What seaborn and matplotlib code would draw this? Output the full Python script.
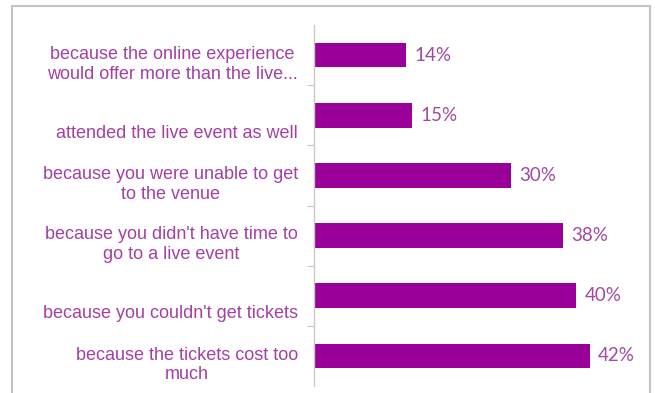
import matplotlib
matplotlib.use("Agg")
import matplotlib.pyplot as plt
import seaborn as sns
import pandas as pd
from matplotlib.patches import Rectangle

# Reasons for watching online, top to bottom
reasons = [
    "because the online experience\nwould offer more than the live...",
    "attended the live event as well",
    "because you were unable to get\nto the venue",
    "because you didn't have time to\ngo to a live event",
    "because you couldn't get tickets",
    "because the tickets cost too\nmuch",
]
shares = [14, 15, 30, 38, 40, 42]

BAR = "#990099"
LABEL = "#a43fa4"
VALUE = "#a04aa0"
AXIS = "#c8c8c8"

sns.set_theme(style="white")
plt.rcParams["font.family"] = ["Liberation Sans", "DejaVu Sans"]

df = pd.DataFrame({"reason": reasons, "share": shares})

fig = plt.figure(figsize=(6.55, 3.93), dpi=100)
ax = fig.add_axes([314 / 655, 1 - 386 / 393, (642 - 314) / 655, (386 - 25) / 393])

sns.barplot(data=df, x="share", y="reason", orient="h", color=BAR,
            saturation=1, width=0.41, ax=ax, edgecolor="none")

ax.set_xlim(0, 50)
ax.set_ylim(len(reasons) - 0.5, -0.5)
ax.set_xlabel("")
ax.set_ylabel("")
ax.set_xticks([])

# category labels drawn as free text, block right edge just left of the axis
ax.set_yticks([])
for i, lab in enumerate(reasons):
    dy = 0.15 if "\n" in lab else 0.30
    ax.text(-16 / 328 * 50, i + dy, lab, ha="right", va="center",
            multialignment="center", fontsize=13, color=LABEL,
            linespacing=1.22)

# boundary tick marks on the category axis
ax.set_yticks([i + 0.5 for i in range(len(reasons) - 1)], minor=True)
ax.tick_params(axis="y", which="minor", left=True, length=5, width=0.8,
               color=AXIS)

for s in ["top", "right", "bottom"]:
    ax.spines[s].set_visible(False)
ax.spines["left"].set_color(AXIS)
ax.spines["left"].set_linewidth(1.0)

ax.bar_label(ax.containers[0], labels=[f"{v}%" for v in shares], padding=6,
             fontsize=13.5, color=VALUE, family=["Lato", "DejaVu Sans"])

# light frame around the chart area
fig.patches.append(Rectangle((12 / 655, -0.05), (650 - 12) / 655, 1.05 - 6 / 393,
                             transform=fig.transFigure, fill=False,
                             edgecolor="#c4c4c4", linewidth=1.5))

fig.savefig("out.png", dpi=100)
